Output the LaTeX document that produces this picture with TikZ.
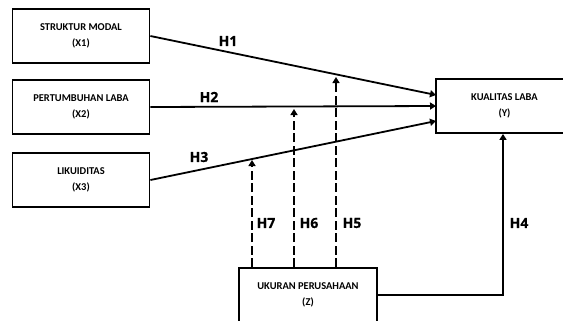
\documentclass[tikz,border=0pt]{standalone}
\usepackage{fontspec}
\setmainfont{Carlito}
\newfontfamily\hfont[BoldFeatures={FakeBold=0.8}]{Open Sans}
\usetikzlibrary{arrows.meta,calc}
\begin{document}
\begin{tikzpicture}[x=1bp,y=-1bp,
  box/.style={draw,line width=1.8bp,rectangle,minimum width=137bp,minimum height=54bp,
    inner sep=0pt,align=center,font=\fontsize{10.5}{16}\selectfont\bfseries},
  conn/.style={line width=1.8bp,-{Triangle[length=6bp,width=7bp]}},
  dconn/.style={conn,dash pattern=on 9bp off 3.5bp},
  hlab/.style={font=\hfont\fontsize{14}{14}\selectfont\bfseries,inner sep=0pt}]
\useasboundingbox (0,0) rectangle (563,320);
\clip (0,0) rectangle (563,320);
\node[box] (X1) at (81,36) {STRUKTUR MODAL\\(X1)};
\node[box] (X2) at (81,107) {PERTUMBUHAN LABA\\(X2)};
\node[box] (X3) at (81,180) {LIKUIDITAS\\(X3)};
\node[box,minimum width=140bp] (Y) at (506,106) {\hspace*{-3bp}KUALITAS LABA\\\hspace*{-3bp}(Y)};
\node[box,minimum width=138bp] (Z) at (308,295) {UKURAN PERUSAHAAN\\(Z)};
\coordinate (t1) at (436,95);
\coordinate (t2) at (436,106);
\coordinate (t3) at (436,121);
\coordinate (h5) at (336,77);
\coordinate (h6) at (294,109);
\coordinate (h7) at (252,160);
\coordinate (h4c) at (503,295);
\draw[conn] (X1.east) -- (t1);
\draw[conn] (X2.east) -- (t2);
\draw[conn] (X3.east) -- (t3);
\draw[dconn] (h5 |- Z.north) -- (h5);
\draw[dconn] (h6 |- Z.north) -- (h6);
\draw[dconn] (h7 |- Z.north) -- (h7);
\draw[conn] (Z.east) -- (h4c) -- (h4c |- Y.south);
\node[hlab] (lh1) at (228,41) {H1};
\node[hlab] (lh2) at (209,97) {H2};
\node[hlab] (lh3) at (199,157) {H3};
\node[hlab] (lh7) at (266,223) {H7};
\node[hlab] (lh6) at (309,223) {H6};
\node[hlab] (lh5) at (352,223) {H5};
\node[hlab] (lh4) at (519,223) {H4};
\end{tikzpicture}
\end{document}
